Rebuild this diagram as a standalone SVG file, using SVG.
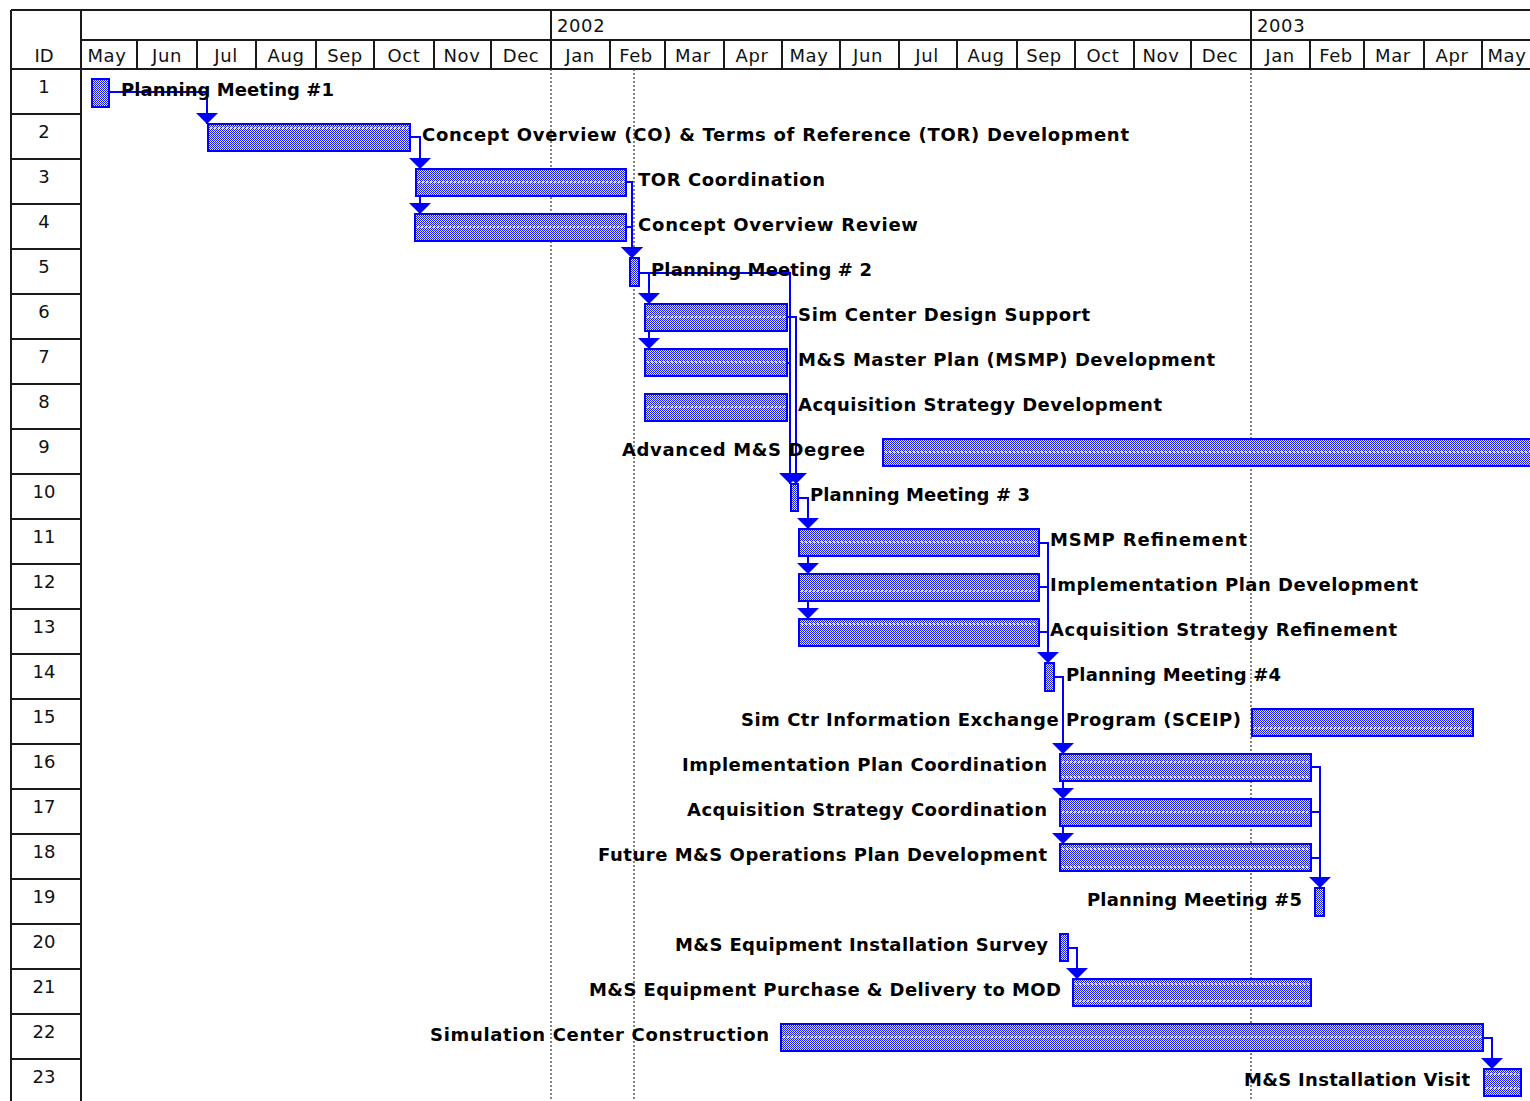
<svg xmlns="http://www.w3.org/2000/svg" width="1530" height="1101" viewBox="0 0 1530 1101">
<style>
.grid{stroke:#1a1a1a;stroke-width:2;fill:none}
.dot{stroke:#333;stroke-width:1.2;stroke-dasharray:2,2;fill:none}
.hdr{font-family:"DejaVu Sans",sans-serif;font-size:18px;fill:#111;letter-spacing:0.6px}
.mon{text-anchor:middle}
.id{font-family:"DejaVu Sans",sans-serif;font-size:18px;fill:#111;text-anchor:middle}
.lbl{font-family:"DejaVu Sans",sans-serif;font-weight:bold;font-size:18px;fill:#000}
.end{text-anchor:end}
.bar{fill:url(#chk);stroke:#0000ff;stroke-width:2}
.dl{stroke:#fff;stroke-width:1.5;stroke-dasharray:2,2}
.con{stroke:#0000ff;stroke-width:2;fill:none;marker-end:url(#arr)}
.con2{stroke:#0000ff;stroke-width:2;fill:none}
</style>
<defs>
<pattern id="chk" width="2" height="2" patternUnits="userSpaceOnUse">
<rect width="2" height="2" fill="#e4e4ff"/>
<rect width="1" height="1" fill="#1a1aff"/>
<rect x="1" y="1" width="1" height="1" fill="#1a1aff"/>
</pattern>
<marker id="arr" viewBox="0 0 11 22" refX="11" refY="11" markerWidth="11" markerHeight="22" markerUnits="userSpaceOnUse" orient="auto">
<path d="M0,0 L11,11 L0,22 z" fill="#0000ff"/>
</marker>
</defs>
<rect width="1530" height="1101" fill="#fff"/>

<g id="timescale">
<path class="grid" d="M11,10 H1530 M81,40 H1530 M11,69 H1530 M11,10 V1101 M81,10 V1101 M551,10 V69 M1251,10 V69"/>
<path class="grid" d="M137,40 V69 M197,40 V69 M256,40 V69 M316,40 V69 M374,40 V69 M434,40 V69 M491,40 V69 M610,40 V69 M665,40 V69 M724,40 V69 M782,40 V69 M840,40 V69 M899,40 V69 M957,40 V69 M1017,40 V69 M1075,40 V69 M1134,40 V69 M1191,40 V69 M1310,40 V69 M1364,40 V69 M1424,40 V69 M1482,40 V69"/>
<text class="hdr" x="557" y="32">2002</text>
<text class="hdr" x="1257" y="32">2003</text>
<text class="hdr mon" x="107" y="62">May</text>
<text class="hdr mon" x="167" y="62">Jun</text>
<text class="hdr mon" x="226" y="62">Jul</text>
<text class="hdr mon" x="286" y="62">Aug</text>
<text class="hdr mon" x="345" y="62">Sep</text>
<text class="hdr mon" x="404" y="62">Oct</text>
<text class="hdr mon" x="462" y="62">Nov</text>
<text class="hdr mon" x="521" y="62">Dec</text>
<text class="hdr mon" x="580" y="62">Jan</text>
<text class="hdr mon" x="636" y="62">Feb</text>
<text class="hdr mon" x="693" y="62">Mar</text>
<text class="hdr mon" x="752" y="62">Apr</text>
<text class="hdr mon" x="809" y="62">May</text>
<text class="hdr mon" x="868" y="62">Jun</text>
<text class="hdr mon" x="927" y="62">Jul</text>
<text class="hdr mon" x="986" y="62">Aug</text>
<text class="hdr mon" x="1044" y="62">Sep</text>
<text class="hdr mon" x="1103" y="62">Oct</text>
<text class="hdr mon" x="1161" y="62">Nov</text>
<text class="hdr mon" x="1220" y="62">Dec</text>
<text class="hdr mon" x="1280" y="62">Jan</text>
<text class="hdr mon" x="1336" y="62">Feb</text>
<text class="hdr mon" x="1393" y="62">Mar</text>
<text class="hdr mon" x="1452" y="62">Apr</text>
<text class="hdr mon" x="1507" y="62">May</text>
<path class="dot" d="M551,69 V1101 M634,69 V1101 M1251,69 V1101"/>
</g>

<g id="idcol">
<path class="grid" d="M11,114 H81 M11,159 H81 M11,204 H81 M11,249 H81 M11,294 H81 M11,339 H81 M11,384 H81 M11,429 H81 M11,474 H81 M11,519 H81 M11,564 H81 M11,609 H81 M11,654 H81 M11,699 H81 M11,744 H81 M11,789 H81 M11,834 H81 M11,879 H81 M11,924 H81 M11,969 H81 M11,1014 H81 M11,1059 H81"/>
<text class="id" x="44" y="62">ID</text>
<text class="id" x="44" y="93">1</text>
<text class="id" x="44" y="138">2</text>
<text class="id" x="44" y="183">3</text>
<text class="id" x="44" y="228">4</text>
<text class="id" x="44" y="273">5</text>
<text class="id" x="44" y="318">6</text>
<text class="id" x="44" y="363">7</text>
<text class="id" x="44" y="408">8</text>
<text class="id" x="44" y="453">9</text>
<text class="id" x="44" y="498">10</text>
<text class="id" x="44" y="543">11</text>
<text class="id" x="44" y="588">12</text>
<text class="id" x="44" y="633">13</text>
<text class="id" x="44" y="678">14</text>
<text class="id" x="44" y="723">15</text>
<text class="id" x="44" y="768">16</text>
<text class="id" x="44" y="813">17</text>
<text class="id" x="44" y="858">18</text>
<text class="id" x="44" y="903">19</text>
<text class="id" x="44" y="948">20</text>
<text class="id" x="44" y="993">21</text>
<text class="id" x="44" y="1038">22</text>
<text class="id" x="44" y="1083">23</text>
</g>

<g id="connectors">
<path class="con" d="M101,92 H207 V124"/>
<path class="con" d="M410,137 H420 V169"/>
<path class="con" d="M410,137 H420 V214"/>
<path class="con" d="M626,182 H632 V258"/>
<path class="con" d="M626,227 H632 V258"/>
<path class="con" d="M639,273 H649 V304"/>
<path class="con" d="M639,273 H649 V349"/>
<path class="con" d="M639,273 H790 V484"/>
<path class="con" d="M787,317 H796 V484"/>
<path class="con2" d="M787,363 H790"/>
<path class="con" d="M798,498 H808 V529"/>
<path class="con" d="M798,498 H808 V574"/>
<path class="con" d="M798,498 H808 V619"/>
<path class="con" d="M1039,543 H1048 V663"/>
<path class="con2" d="M1039,587 H1048 M1039,632 H1048"/>
<path class="con" d="M1054,677 H1063 V754"/>
<path class="con" d="M1054,677 H1063 V799"/>
<path class="con" d="M1054,677 H1063 V844"/>
<path class="con" d="M1311,767 H1320 V888"/>
<path class="con2" d="M1311,812 H1320 M1311,858 H1320"/>
<path class="con" d="M1068,948 H1077 V979"/>
<path class="con" d="M1483,1038 H1492 V1069"/>
</g>

<g id="task1"><rect class="bar" x="92" y="79" width="17" height="28"/><text class="lbl" x="121" y="96" textLength="213" lengthAdjust="spacing">Planning Meeting #1</text></g>
<g id="task2"><rect class="bar" x="208" y="124" width="202" height="27"/><line class="dl" x1="210" y1="128" x2="408" y2="128"/><text class="lbl" x="422" y="141" textLength="707" lengthAdjust="spacing">Concept Overview (CO) &amp; Terms of Reference (TOR) Development</text></g>
<g id="task3"><rect class="bar" x="416" y="169" width="210" height="27"/><line class="dl" x1="418" y1="182" x2="624" y2="182"/><text class="lbl" x="638" y="186" textLength="187" lengthAdjust="spacing">TOR Coordination</text></g>
<g id="task4"><rect class="bar" x="415" y="214" width="211" height="27"/><line class="dl" x1="417" y1="227" x2="624" y2="227"/><text class="lbl" x="638" y="231" textLength="280" lengthAdjust="spacing">Concept Overview Review</text></g>
<g id="task5"><rect class="bar" x="630" y="258" width="9" height="28"/><text class="lbl" x="651" y="276" textLength="221" lengthAdjust="spacing">Planning Meeting # 2</text></g>
<g id="task6"><rect class="bar" x="645" y="304" width="142" height="27"/><line class="dl" x1="647" y1="317" x2="785" y2="317"/><text class="lbl" x="798" y="321" textLength="292" lengthAdjust="spacing">Sim Center Design Support</text></g>
<g id="task7"><rect class="bar" x="645" y="349" width="142" height="27"/><line class="dl" x1="647" y1="362" x2="785" y2="362"/><text class="lbl" x="798" y="366" textLength="417" lengthAdjust="spacing">M&amp;S Master Plan (MSMP) Development</text></g>
<g id="task8"><rect class="bar" x="645" y="394" width="142" height="27"/><line class="dl" x1="647" y1="407" x2="785" y2="407"/><text class="lbl" x="798" y="411" textLength="364" lengthAdjust="spacing">Acquisition Strategy Development</text></g>
<g id="task9"><rect class="bar" x="883" y="439" width="660" height="27"/><line class="dl" x1="885" y1="452" x2="1530" y2="452"/><text class="lbl end" x="865" y="456" textLength="243" lengthAdjust="spacing">Advanced M&amp;S Degree</text></g>
<g id="task10"><rect class="bar" x="791" y="484" width="7" height="27"/><text class="lbl" x="810" y="501" textLength="220" lengthAdjust="spacing">Planning Meeting # 3</text></g>
<g id="task11"><rect class="bar" x="799" y="529" width="240" height="27"/><line class="dl" x1="801" y1="542" x2="1037" y2="542"/><text class="lbl" x="1050" y="546" textLength="197" lengthAdjust="spacing">MSMP Refinement</text></g>
<g id="task12"><rect class="bar" x="799" y="574" width="240" height="27"/><line class="dl" x1="801" y1="591" x2="1037" y2="591"/><text class="lbl" x="1050" y="591" textLength="368" lengthAdjust="spacing">Implementation Plan Development</text></g>
<g id="task13"><rect class="bar" x="799" y="619" width="240" height="27"/><line class="dl" x1="801" y1="624" x2="1037" y2="624"/><text class="lbl" x="1050" y="636" textLength="347" lengthAdjust="spacing">Acquisition Strategy Refinement</text></g>
<g id="task14"><rect class="bar" x="1045" y="663" width="9" height="28"/><text class="lbl" x="1066" y="681" textLength="215" lengthAdjust="spacing">Planning Meeting #4</text></g>
<g id="task15"><rect class="bar" x="1252" y="709" width="221" height="27"/><line class="dl" x1="1254" y1="728" x2="1471" y2="728"/><text class="lbl end" x="1241" y="726" textLength="500" lengthAdjust="spacing">Sim Ctr Information Exchange Program (SCEIP)</text></g>
<g id="task16"><rect class="bar" x="1060" y="754" width="251" height="27"/><line class="dl" x1="1062" y1="762" x2="1309" y2="762"/><line class="dl" x1="1062" y1="777" x2="1309" y2="777"/><text class="lbl end" x="1047" y="771" textLength="365" lengthAdjust="spacing">Implementation Plan Coordination</text></g>
<g id="task17"><rect class="bar" x="1060" y="799" width="251" height="27"/><line class="dl" x1="1062" y1="812" x2="1309" y2="812"/><text class="lbl end" x="1047" y="816" textLength="360" lengthAdjust="spacing">Acquisition Strategy Coordination</text></g>
<g id="task18"><rect class="bar" x="1060" y="844" width="251" height="27"/><line class="dl" x1="1062" y1="849" x2="1309" y2="849"/><line class="dl" x1="1062" y1="867" x2="1309" y2="867"/><text class="lbl end" x="1047" y="861" textLength="449" lengthAdjust="spacing">Future M&amp;S Operations Plan Development</text></g>
<g id="task19"><rect class="bar" x="1315" y="888" width="9" height="28"/><text class="lbl end" x="1302" y="906" textLength="215" lengthAdjust="spacing">Planning Meeting #5</text></g>
<g id="task20"><rect class="bar" x="1060" y="934" width="8" height="27"/><text class="lbl end" x="1048" y="951" textLength="373" lengthAdjust="spacing">M&amp;S Equipment Installation Survey</text></g>
<g id="task21"><rect class="bar" x="1073" y="979" width="238" height="27"/><line class="dl" x1="1075" y1="984" x2="1309" y2="984"/><line class="dl" x1="1075" y1="1001" x2="1309" y2="1001"/><text class="lbl end" x="1061" y="996" textLength="472" lengthAdjust="spacing">M&amp;S Equipment Purchase &amp; Delivery to MOD</text></g>
<g id="task22"><rect class="bar" x="781" y="1024" width="702" height="27"/><line class="dl" x1="783" y1="1037" x2="1481" y2="1037"/><text class="lbl end" x="769" y="1041" textLength="339" lengthAdjust="spacing">Simulation Center Construction</text></g>
<g id="task23"><rect class="bar" x="1484" y="1069" width="37" height="27"/><line class="dl" x1="1486" y1="1074" x2="1519" y2="1074"/><line class="dl" x1="1486" y1="1088" x2="1519" y2="1088"/><text class="lbl end" x="1470" y="1086" textLength="226" lengthAdjust="spacing">M&amp;S Installation Visit</text></g>
</svg>
